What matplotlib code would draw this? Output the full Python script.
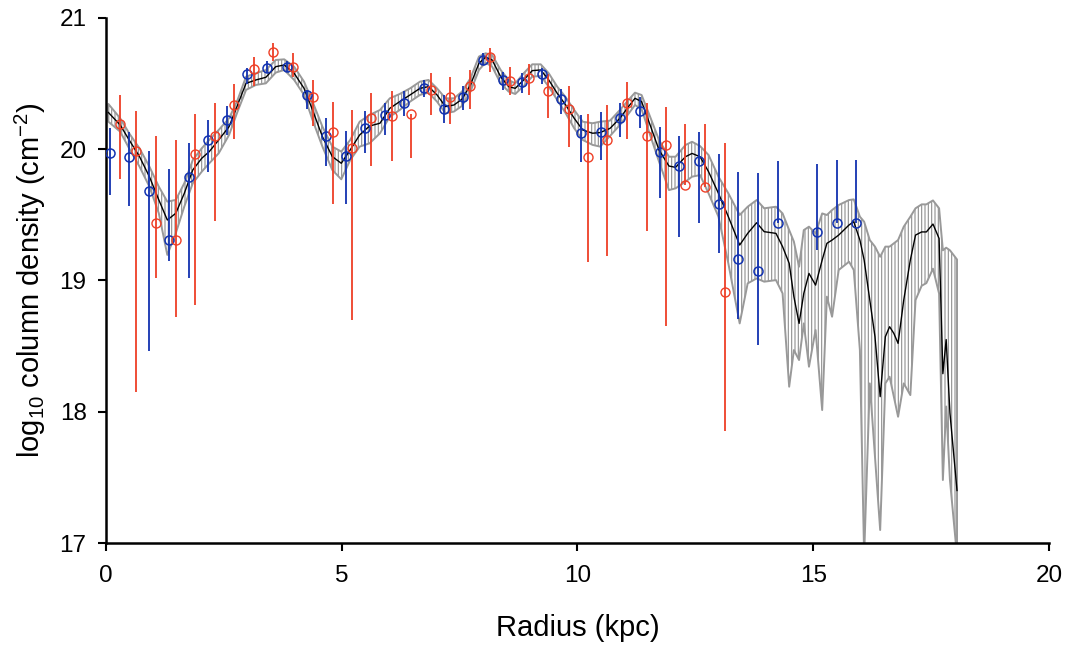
import numpy as np
import matplotlib
matplotlib.use('Agg')
import matplotlib.pyplot as plt

plt.rcParams['font.family'] = ['Liberation Sans', 'DejaVu Sans']
plt.rcParams['mathtext.fontset'] = 'custom'
plt.rcParams['mathtext.rm'] = 'Liberation Sans'
plt.rcParams['hatch.linewidth'] = 0.8
plt.rcParams['hatch.color'] = '#8f8f8f'

# smoothed profile: radius, mean, upper and lower edge of the band
curve_r = [0.05, 0.30, 0.49, 0.71, 0.92, 1.12, 1.30, 1.48, 1.66, 1.84,
           2.03, 2.19, 2.39, 2.61, 2.79, 2.97, 3.18, 3.39, 3.60, 3.78,
           3.99, 4.20, 4.38, 4.59, 4.80, 4.99, 5.18, 5.38, 5.59, 5.81,
           6.02, 6.23, 6.45, 6.66, 6.84, 7.02, 7.20, 7.38, 7.55, 7.73,
           7.91, 8.05, 8.19, 8.37, 8.54, 8.68, 8.86, 9.04, 9.22, 9.39,
           9.57, 9.75, 9.93, 10.11, 10.32, 10.48, 10.69, 10.90, 11.08, 11.22,
           11.36, 11.54, 11.73, 11.94, 12.08, 12.29, 12.43, 12.60, 12.78, 12.99,
           13.20, 13.44, 13.61, 13.80, 13.96, 14.21, 14.35, 14.49, 14.59, 14.70,
           14.80, 14.91, 15.05, 15.19, 15.29, 15.40, 15.54, 15.76, 15.86, 15.99,
           16.08, 16.20, 16.31, 16.42, 16.53, 16.62, 16.71, 16.80, 16.92, 17.06,
           17.17, 17.30, 17.40, 17.54, 17.67, 17.75, 17.82, 17.90, 18.05]
curve_mean = [20.28, 20.185, 20.071, 19.944, 19.791, 19.614, 19.461, 19.512, 19.664, 19.842,
              19.931, 19.982, 20.071, 20.172, 20.337, 20.502, 20.528, 20.548, 20.629, 20.642,
              20.579, 20.464, 20.299, 20.096, 19.944, 19.893, 19.995, 20.109, 20.177, 20.198,
              20.312, 20.363, 20.414, 20.464, 20.477, 20.414, 20.325, 20.337, 20.381, 20.490,
              20.655, 20.701, 20.680, 20.553, 20.477, 20.464, 20.528, 20.599, 20.604, 20.528,
              20.426, 20.337, 20.236, 20.147, 20.122, 20.127, 20.159, 20.236, 20.324, 20.388,
              20.363, 20.185, 19.994, 19.872, 19.862, 19.943, 19.968, 19.943, 19.829, 19.664,
              19.486, 19.270, 19.359, 19.440, 19.372, 19.359, 19.258, 19.131, 18.877, 18.673,
              18.902, 19.054, 18.965, 19.156, 19.283, 19.308, 19.346, 19.423, 19.448, 19.308,
              19.156, 18.851, 18.572, 18.115, 18.572, 18.648, 18.597, 18.521, 18.851, 19.156,
              19.346, 19.37, 19.37, 19.43, 19.32, 18.29, 18.55, 17.99, 17.40]
curve_hi = [20.345, 20.236, 20.122, 20.007, 19.868, 19.715, 19.601, 19.614, 19.741, 19.918,
            20.007, 20.071, 20.147, 20.236, 20.375, 20.553, 20.579, 20.604, 20.680, 20.685,
            20.629, 20.515, 20.363, 20.172, 20.020, 19.982, 20.071, 20.210, 20.261, 20.299,
            20.388, 20.421, 20.464, 20.515, 20.528, 20.464, 20.388, 20.388, 20.439, 20.541,
            20.706, 20.731, 20.718, 20.604, 20.528, 20.502, 20.579, 20.647, 20.647, 20.579,
            20.477, 20.396, 20.299, 20.210, 20.198, 20.210, 20.218, 20.299, 20.375, 20.431,
            20.413, 20.248, 20.070, 19.943, 19.943, 20.032, 20.057, 20.024, 19.956, 19.791,
            19.664, 19.499, 19.562, 19.613, 19.550, 19.562, 19.511, 19.384, 19.296, 19.105,
            19.384, 19.410, 19.359, 19.511, 19.499, 19.537, 19.575, 19.613, 19.618, 19.486,
            19.448, 19.308, 19.258, 19.181, 19.258, 19.258, 19.283, 19.308, 19.410, 19.486,
            19.550, 19.58, 19.58, 19.61, 19.55, 19.23, 19.25, 19.23, 19.16]
curve_lo = [20.21, 20.134, 20.007, 19.868, 19.715, 19.512, 19.195, 19.360, 19.563, 19.741,
            19.829, 19.893, 19.969, 20.109, 20.287, 20.452, 20.490, 20.502, 20.584, 20.604,
            20.528, 20.414, 20.223, 20.020, 19.842, 19.771, 19.918, 20.020, 20.045, 20.121,
            20.248, 20.299, 20.363, 20.414, 20.431, 20.363, 20.274, 20.287, 20.330, 20.439,
            20.604, 20.660, 20.629, 20.502, 20.439, 20.421, 20.482, 20.553, 20.558, 20.477,
            20.375, 20.274, 20.160, 20.071, 20.033, 20.020, 20.101, 20.185, 20.269, 20.337,
            20.304, 20.109, 19.905, 19.689, 19.702, 19.753, 19.791, 19.803, 19.664, 19.486,
            19.130, 18.673, 18.978, 19.016, 18.991, 19.003, 18.902, 18.191, 18.470, 18.394,
            18.673, 18.343, 18.623, 18.013, 18.877, 18.724, 19.080, 19.143, 19.080, 18.470,
            16.90, 18.216, 17.657, 17.099, 18.216, 18.267, 18.115, 17.962, 18.216, 18.127,
            18.851, 18.96, 18.98, 19.09, 18.90, 17.48, 18.04, 17.48, 16.90]

# blue points: radius, value, top and bottom of error bar
blue_r = [0.085, 0.49, 0.92, 1.33, 1.75, 2.16, 2.57, 2.98, 3.41, 3.83,
          4.26, 4.67, 5.08, 5.49, 5.92, 6.33, 6.74, 7.17, 7.58, 7.99,
          8.41, 8.83, 9.24, 9.66, 10.08, 10.49, 10.90, 11.33, 11.75, 12.16,
          12.58, 13.00, 13.41, 13.82, 14.25, 15.07, 15.50, 15.91]
blue_val = [19.97, 19.94, 19.68, 19.31, 19.79, 20.07, 20.22, 20.57, 20.62, 20.63,
            20.41, 20.10, 19.95, 20.16, 20.26, 20.35, 20.47, 20.31, 20.40, 20.68,
            20.53, 20.51, 20.57, 20.38, 20.12, 20.13, 20.24, 20.29, 19.98, 19.87,
            19.91, 19.58, 19.16, 19.07, 19.44, 19.37, 19.44, 19.44]
blue_top = [20.16, 20.13, 19.99, 19.85, 20.045, 20.22, 20.33, 20.62, 20.67, 20.67,
            20.45, 20.24, 20.14, 20.29, 20.35, 20.44, 20.53, 20.41, 20.48, 20.73,
            20.59, 20.58, 20.62, 20.46, 20.26, 20.28, 20.35, 20.40, 20.17, 20.10,
            20.13, 19.96, 19.83, 19.82, 19.91, 19.89, 19.92, 19.92]
blue_bot = [19.65, 19.57, 18.46, 19.15, 19.02, 19.83, 20.11, 20.50, 20.58, 20.59,
            20.31, 19.87, 19.58, 19.97, 20.11, 20.25, 20.40, 20.20, 20.30, 20.64,
            20.45, 20.43, 20.50, 20.27, 19.90, 19.92, 20.09, 20.16, 19.63, 19.33,
            19.44, 19.21, 18.71, 18.51, 19.44, 19.23, 19.44, 19.44]

# red points
red_r = [0.30, 0.64, 1.06, 1.48, 1.89, 2.31, 2.72, 3.14, 3.55, 3.97,
         4.40, 4.81, 5.22, 5.63, 6.06, 6.46, 6.89, 7.30, 7.72, 8.14,
         8.57, 8.98, 9.38, 9.81, 10.22, 10.63, 11.06, 11.47, 11.88, 12.29,
         12.71, 13.13]
red_val = [20.19, 19.99, 19.44, 19.31, 19.96, 20.10, 20.34, 20.61, 20.74, 20.63,
           20.40, 20.13, 20.01, 20.24, 20.25, 20.27, 20.45, 20.40, 20.48, 20.70,
           20.52, 20.54, 20.44, 20.31, 19.94, 20.07, 20.35, 20.10, 20.03, 19.73,
           19.71, 18.91]
red_top = [20.41, 20.29, 20.10, 20.07, 20.27, 20.35, 20.50, 20.70, 20.81, 20.73,
           20.53, 20.36, 20.30, 20.43, 20.44, 20.27, 20.58, 20.55, 20.60, 20.77,
           20.63, 20.65, 20.57, 20.48, 20.27, 20.34, 20.51, 20.35, 20.32, 20.19,
           20.19, 20.05]
red_bot = [19.77, 18.15, 19.02, 18.72, 18.81, 19.45, 20.08, 20.48, 20.67, 20.55,
           20.18, 19.58, 18.70, 19.87, 19.91, 19.93, 20.26, 20.19, 20.31, 20.59,
           20.41, 20.41, 20.24, 20.02, 19.14, 19.19, 20.08, 19.38, 18.65, 19.73,
           19.71, 17.85]

blue = '#1232b0'
red = '#ee3f26'
band = '#999999'

fig = plt.figure(figsize=(10.72, 6.49), dpi=100)
ax = fig.add_axes([0.0989, 0.1633, 0.8796, 0.809])

# band: hatched fill plus its outline
ax.fill_between(curve_r, curve_lo, curve_hi, facecolor='none',
                edgecolor='#8f8f8f', linewidth=0, hatch='|||||', zorder=1)
ax.fill_between(curve_r, curve_lo, curve_hi, facecolor='none',
                edgecolor=band, linewidth=1.4, zorder=2)
ax.plot(curve_r, curve_mean, color='black', lw=1.0, zorder=3)

bv = np.array(blue_val)
ax.errorbar(blue_r, bv, yerr=[bv - np.array(blue_bot), np.array(blue_top) - bv],
            fmt='o', ms=6.5, mfc='none', mec=blue, mew=1.1, ecolor=blue,
            elinewidth=1.3, capsize=0, zorder=4)
rv = np.array(red_val)
ax.errorbar(red_r, rv, yerr=[rv - np.array(red_bot), np.array(red_top) - rv],
            fmt='o', ms=6.5, mfc='none', mec=red, mew=1.0, ecolor=red,
            elinewidth=1.3, capsize=0, zorder=4)

ax.set_xlim(0, 20)
ax.set_ylim(17, 21)
ax.set_xticks([0, 5, 10, 15, 20])
ax.set_yticks([17, 18, 19, 20, 21])
for s in ['top', 'right']:
    ax.spines[s].set_visible(False)
for s in ['left', 'bottom']:
    ax.spines[s].set_linewidth(1.8)
ax.tick_params(direction='out', length=6, width=1.5, labelsize=17.5)
ax.tick_params(axis='x', pad=10)
ax.tick_params(axis='y', pad=8)

ax.set_xlabel('Radius (kpc)', fontsize=21, labelpad=19)
ax.set_ylabel(r'log$_{\mathregular{10}}$ column density (cm$^{\mathregular{-2}}$)',
              fontsize=21, labelpad=8)

fig.savefig('out.png', dpi=100)
